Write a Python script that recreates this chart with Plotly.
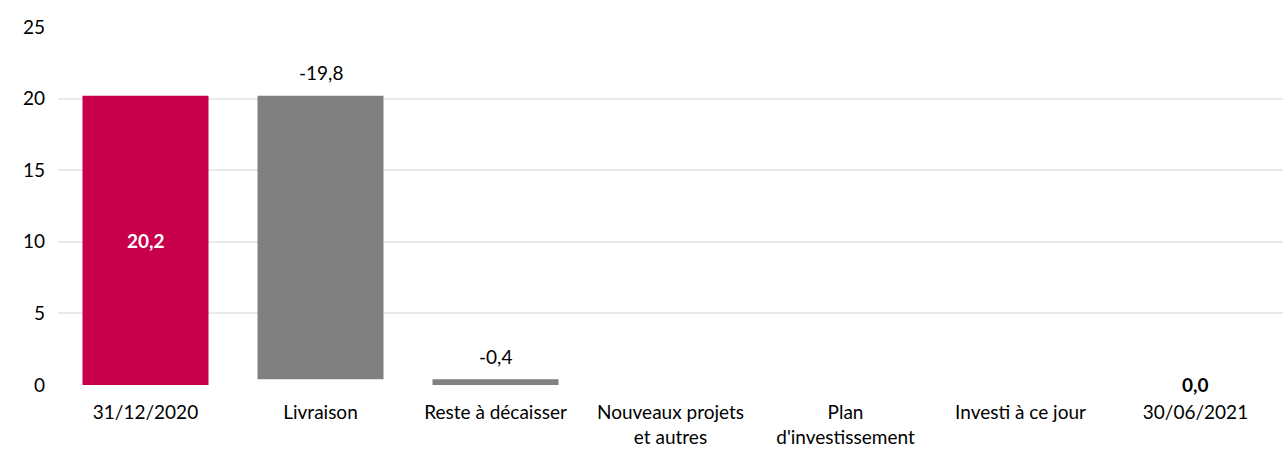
import plotly.graph_objects as go

categories = ["31/12/2020", "Livraison", "Reste à décaisser", "Nouveaux projets<br>et autres",
              "Plan<br>d'investissement", "Investi à ce jour", "30/06/2021"]
values = [20.2, -19.8, -0.4, 0.0, None, 0.0, None]   # None -> running total
measures = ["absolute", "relative", "relative", "relative", "total", "relative", "total"]
show_label = [True, True, True, False, True, False, True]
bar_colors = ["#C8004B", "#808080", "#808080", "#808080", "#C8004B", "#808080", "#C8004B"]
label_colors = ["white", "black", "black", "black", "white", "black", "black"]
label_bold = [True, False, False, False, True, False, True]
y_ticks = [0, 5, 10, 15, 20, 25]

FONT = "Lato"

def fmt(v):
    v = round(v, 1) + 0.0
    return f"{v:.1f}".replace(".", ",")

# running totals -> bar bases and heights
bases, heights, label_vals = [], [], []
running = 0.0
for v, m in zip(values, measures):
    if m == "absolute":
        running = v
        bases.append(0.0); heights.append(v); label_vals.append(v)
    elif m == "total":
        bases.append(0.0); heights.append(running); label_vals.append(running)
    else:
        new = round(running + v, 6)
        bases.append(min(running, new)); heights.append(abs(v)); label_vals.append(v)
        running = new

fig = go.Figure(go.Bar(
    x=categories, y=heights, base=bases,
    marker=dict(color=bar_colors, line=dict(width=0)),
    hoverinfo="skip", showlegend=False,
))

for i, cat in enumerate(categories):
    if not show_label[i]:
        continue
    txt = fmt(label_vals[i])
    if label_bold[i]:
        txt = f"<b>{txt}</b>"
    if measures[i] == "relative":
        ypos = bases[i] + heights[i]
        shift = 23
    else:
        ypos = bases[i] + heights[i] / 2
        shift = 1 if heights[i] == 0 else 0
    fig.add_annotation(x=cat, y=ypos, text=txt, showarrow=False, yshift=shift,
                       yanchor="middle",
                       font=dict(family=FONT, size=19, color=label_colors[i]))

fig.update_layout(
    width=1287, height=455,
    margin=dict(l=58, r=4, t=27, b=70),
    paper_bgcolor="white", plot_bgcolor="white",
    bargap=0.28,
    font=dict(family=FONT, size=19, color="#000000"),
    xaxis=dict(showgrid=False, showline=False, ticks="", tickfont=dict(size=19),
               tickangle=0, ticklabelstandoff=14),
    yaxis=dict(range=[0, 25], tickvals=y_ticks, showgrid=True, gridcolor="#e8e8ed",
               gridwidth=2, zeroline=False, showline=False, ticks="",
               ticklabelstandoff=12, tickfont=dict(size=19)),
)

fig.write_html("out.html")
